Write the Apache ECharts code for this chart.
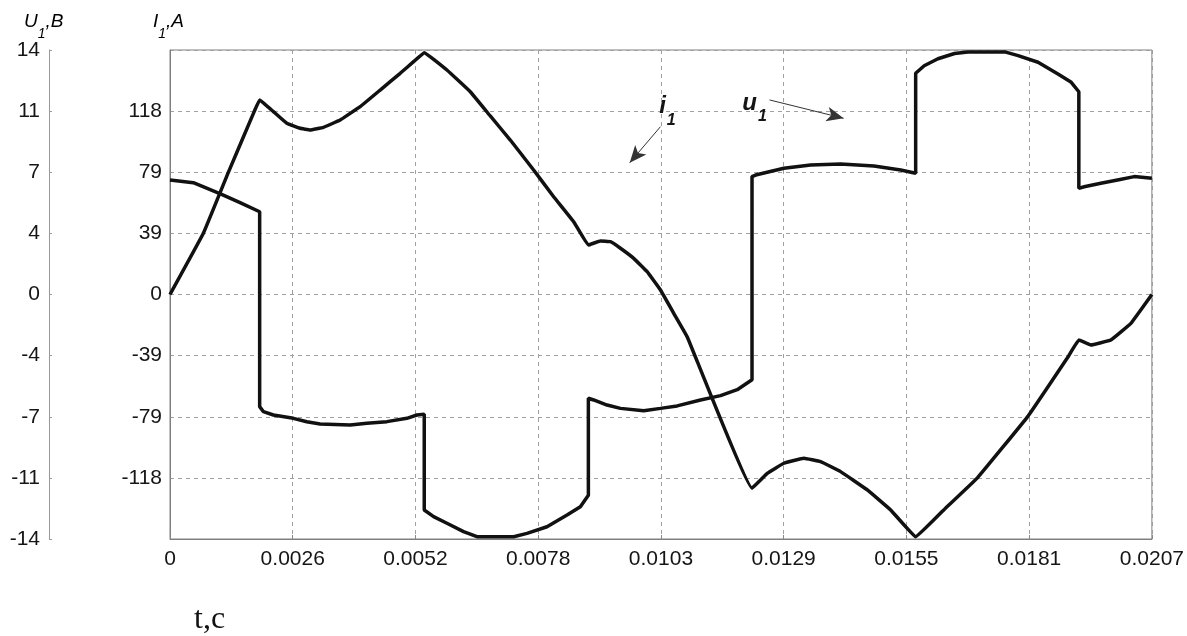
<!DOCTYPE html>
<html>
<head>
<meta charset="utf-8">
<script src="https://cdn.jsdelivr.net/npm/echarts@6/dist/echarts.min.js"></script>
<style>
  html, body { margin: 0; padding: 0; background: #fff; }
  #chart { width: 1187px; height: 636px; }
</style>
</head>
<body>
<div id="chart"></div>
<script>
// Phase voltage u1 (V) of the six-step inverter over one period; each switching
// instant appears twice (value before and after the step)
const timeU = [0, 0.000492, 0.001076, 0.001477, 0.00189,
  0.00189, 0.00197, 0.00218, 0.002601, 0.002883, 0.003165, 0.003798, 0.00415, 0.004572, 0.004994, 0.005205, 0.00536,
  0.00536, 0.005557, 0.005838, 0.006189, 0.006471, 0.007245, 0.007526, 0.007948, 0.00837, 0.008651, 0.00882,
  0.00882, 0.008932, 0.009214, 0.009496, 0.009987, 0.01034, 0.010692, 0.011184, 0.011606, 0.011958, 0.01227,
  0.01227, 0.012346, 0.012942, 0.013505, 0.014138, 0.014841, 0.015404, 0.01572,
  0.01572, 0.0159, 0.01619, 0.01654, 0.01682, 0.0176, 0.01788, 0.0183, 0.01872, 0.019, 0.01916,
  0.01916, 0.019272, 0.019624, 0.019976, 0.020328, 0.0207];
const voltageU = [6.56, 6.40, 5.75, 5.26, 4.74,
  -6.42, -6.71, -6.90, -7.09, -7.29, -7.42, -7.47, -7.37, -7.28, -7.09, -6.90, -6.86,
  -12.34, -12.72, -13.10, -13.58, -13.87, -13.87, -13.68, -13.30, -12.63, -12.15, -11.49,
  -5.94, -6.04, -6.33, -6.52, -6.66, -6.52, -6.38, -6.04, -5.79, -5.45, -4.88,
  6.75, 6.84, 7.23, 7.42, 7.47, 7.36, 7.13, 6.94,
  12.67, 13.10, 13.50, 13.80, 13.89, 13.89, 13.68, 13.30, 12.63, 12.15, 11.61,
  6.08, 6.17, 6.37, 6.56, 6.75, 6.65];

// Phase current i1 (A)
const timeI = [0, 0.000703, 0.00123, 0.001779, 0.00189, 0.00218, 0.002462, 0.002743, 0.002954, 0.003235, 0.003587,
  0.004009, 0.004431, 0.004853, 0.005135, 0.00536, 0.005838, 0.00633, 0.006752, 0.007174, 0.007666,
  0.008088, 0.00851, 0.00882, 0.009073, 0.009285, 0.009496, 0.009776, 0.010059, 0.01034, 0.01062,
  0.010903, 0.01227, 0.012591, 0.012942, 0.013363, 0.013716, 0.014138, 0.014701, 0.015193, 0.01572,
  0.016354, 0.017022, 0.018077, 0.018948, 0.01916, 0.019413, 0.019835, 0.020257, 0.0207];
const currentI = [0, 39.4, 78.7, 118.1, 125.3, 117.8, 110.3, 107.1, 106.0, 107.7, 112.4,
  121.0, 131.7, 142.5, 150.0, 155.8, 144.6, 130.6, 115.0, 99.5, 80.2,
  63.0, 46.9, 31.9, 34.5, 34.0, 29.8, 23.3, 14.7, 2.9, -12.1,
  -27.2, -124.8, -115.2, -108.7, -105.5, -107.7, -114.1, -125.9, -138.8, -156.0,
  -137.5, -118.1, -78.8, -39.4, -29.3, -32.5, -29.3, -18.6, 0];

// Tick labels
const xTickLabels = ['0', '0.0026', '0.0052', '0.0078', '0.0103', '0.0129', '0.0155', '0.0181', '0.0207'];
const iTickLabels = ['', '-118', '-79', '-39', '0', '39', '79', '118', ''];
const uTickLabels = ['-14', '-11', '-7', '-4', '0', '4', '7', '11', '14'];

// Curve annotations: label position and arrow [from, to] in data units
const u1Label = [0.012323, 10.97];
const u1Arrow = [[0.01264, 11.14], [0.014201, 10.09]];
const i1Label = [0.010487, 121.3];
const i1Arrow = [[0.01034, 108.1], [0.009692, 84.9]];

const X_MAX = 0.0207, X_STEP = X_MAX / 8;
const I_MAX = 157.5, I_STEP = I_MAX / 4;
const U_MAX = 14, U_STEP = U_MAX / 4;

const zip = (a, b) => a.map((v, k) => [v, b[k]]);
const FONT = 'Liberation Sans, Arial, sans-serif';
const tickText = { fontSize: 21, color: '#151515', fontFamily: FONT };

const noteRich = {
  m: { fontSize: 24, fontWeight: 'bold', fontStyle: 'italic', fontFamily: FONT, color: '#151515', lineHeight: 24, verticalAlign: 'top' },
  s: { fontSize: 16, fontWeight: 'bold', fontStyle: 'italic', fontFamily: FONT, color: '#151515', lineHeight: 14, padding: [18, 0, 0, 1], verticalAlign: 'top' }
};
const titleRich = {
  m: { fontSize: 19, fontStyle: 'italic', fontFamily: FONT, color: '#222', lineHeight: 20, verticalAlign: 'top' },
  s: { fontSize: 14, fontStyle: 'italic', fontFamily: FONT, color: '#222', lineHeight: 12, padding: [15, 0, 0, 0], verticalAlign: 'top' }
};

function arrowLine(seg) {
  return {
    silent: true,
    symbol: ['none', 'arrow'],
    symbolSize: [11, 17],
    label: { show: false },
    lineStyle: { color: '#333', width: 1, type: 'solid' },
    emphasis: { disabled: true },
    data: [[{ coord: seg[0] }, { coord: seg[1] }]]
  };
}
function noteMark(pos, letter) {
  return {
    silent: true,
    symbol: 'circle',
    symbolSize: 1,
    itemStyle: { color: 'rgba(0,0,0,0)' },
    label: { show: true, position: 'inside', formatter: '{m|' + letter + '}{s|1}', rich: noteRich },
    data: [{ coord: pos }]
  };
}

const chart = echarts.init(document.getElementById('chart'), null, { renderer: 'canvas' });
chart.setOption({
  animation: false,
  backgroundColor: '#fff',
  grid: { left: 170, right: 35, top: 50, bottom: 97, show: true, borderColor: '#808080', borderWidth: 1 },
  xAxis: {
    type: 'value', min: 0, max: X_MAX, interval: X_STEP,
    axisLine: { show: true, onZero: false, lineStyle: { color: '#808080' } },
    axisTick: { show: true, inside: true, length: 4, lineStyle: { color: '#888' } },
    axisLabel: Object.assign({ margin: 10, showMaxLabel: true, formatter: v => xTickLabels[Math.round(v / X_STEP)] || '' }, tickText),
    splitLine: { show: true, lineStyle: { type: [4, 4], color: '#a0a0a0', width: 1 } }
  },
  yAxis: [
    {
      type: 'value', position: 'left', min: -I_MAX, max: I_MAX, interval: I_STEP,
      axisLine: { show: true, onZero: false, lineStyle: { color: '#808080' } },
      axisTick: { show: false },
      axisLabel: Object.assign({ margin: 8, formatter: v => iTickLabels[Math.round(v / I_STEP) + 4] || '' }, tickText),
      splitLine: { show: true, lineStyle: { type: [4, 4], color: '#a0a0a0', width: 1 } }
    },
    {
      type: 'value', position: 'left', offset: 121, min: -U_MAX, max: U_MAX, interval: U_STEP,
      axisLine: { show: true, onZero: false, lineStyle: { color: '#999' } },
      axisTick: { show: true, inside: true, length: 3, lineStyle: { color: '#999' } },
      axisLabel: Object.assign({ margin: 9, formatter: v => uTickLabels[Math.round(v / U_STEP) + 4] || '' }, tickText),
      splitLine: { show: false }
    }
  ],
  graphic: [
    { type: 'text', left: 24, top: 12, silent: true, style: { text: '{m|U}{s|1}{m|,B}', rich: titleRich } },
    { type: 'text', left: 153, top: 12, silent: true, style: { text: '{m|I}{s|1}{m|,A}', rich: titleRich } },
    { type: 'text', left: 194, top: 604, silent: true, style: { text: 't,c', fontSize: 32, fontFamily: 'Liberation Serif, Times New Roman, serif', fill: '#111' } }
  ],
  series: [
    {
      name: 'u1', type: 'line', yAxisIndex: 1, showSymbol: false, silent: true,
      lineStyle: { color: '#111', width: 3.5 },
      data: zip(timeU, voltageU),
      markLine: arrowLine(u1Arrow),
      markPoint: noteMark(u1Label, 'u')
    },
    {
      name: 'i1', type: 'line', yAxisIndex: 0, showSymbol: false, silent: true,
      smooth: 0.07,
      lineStyle: { color: '#111', width: 3.5 },
      data: zip(timeI, currentI),
      markLine: arrowLine(i1Arrow),
      markPoint: noteMark(i1Label, 'i')
    }
  ]
});
</script>
</body>
</html>
